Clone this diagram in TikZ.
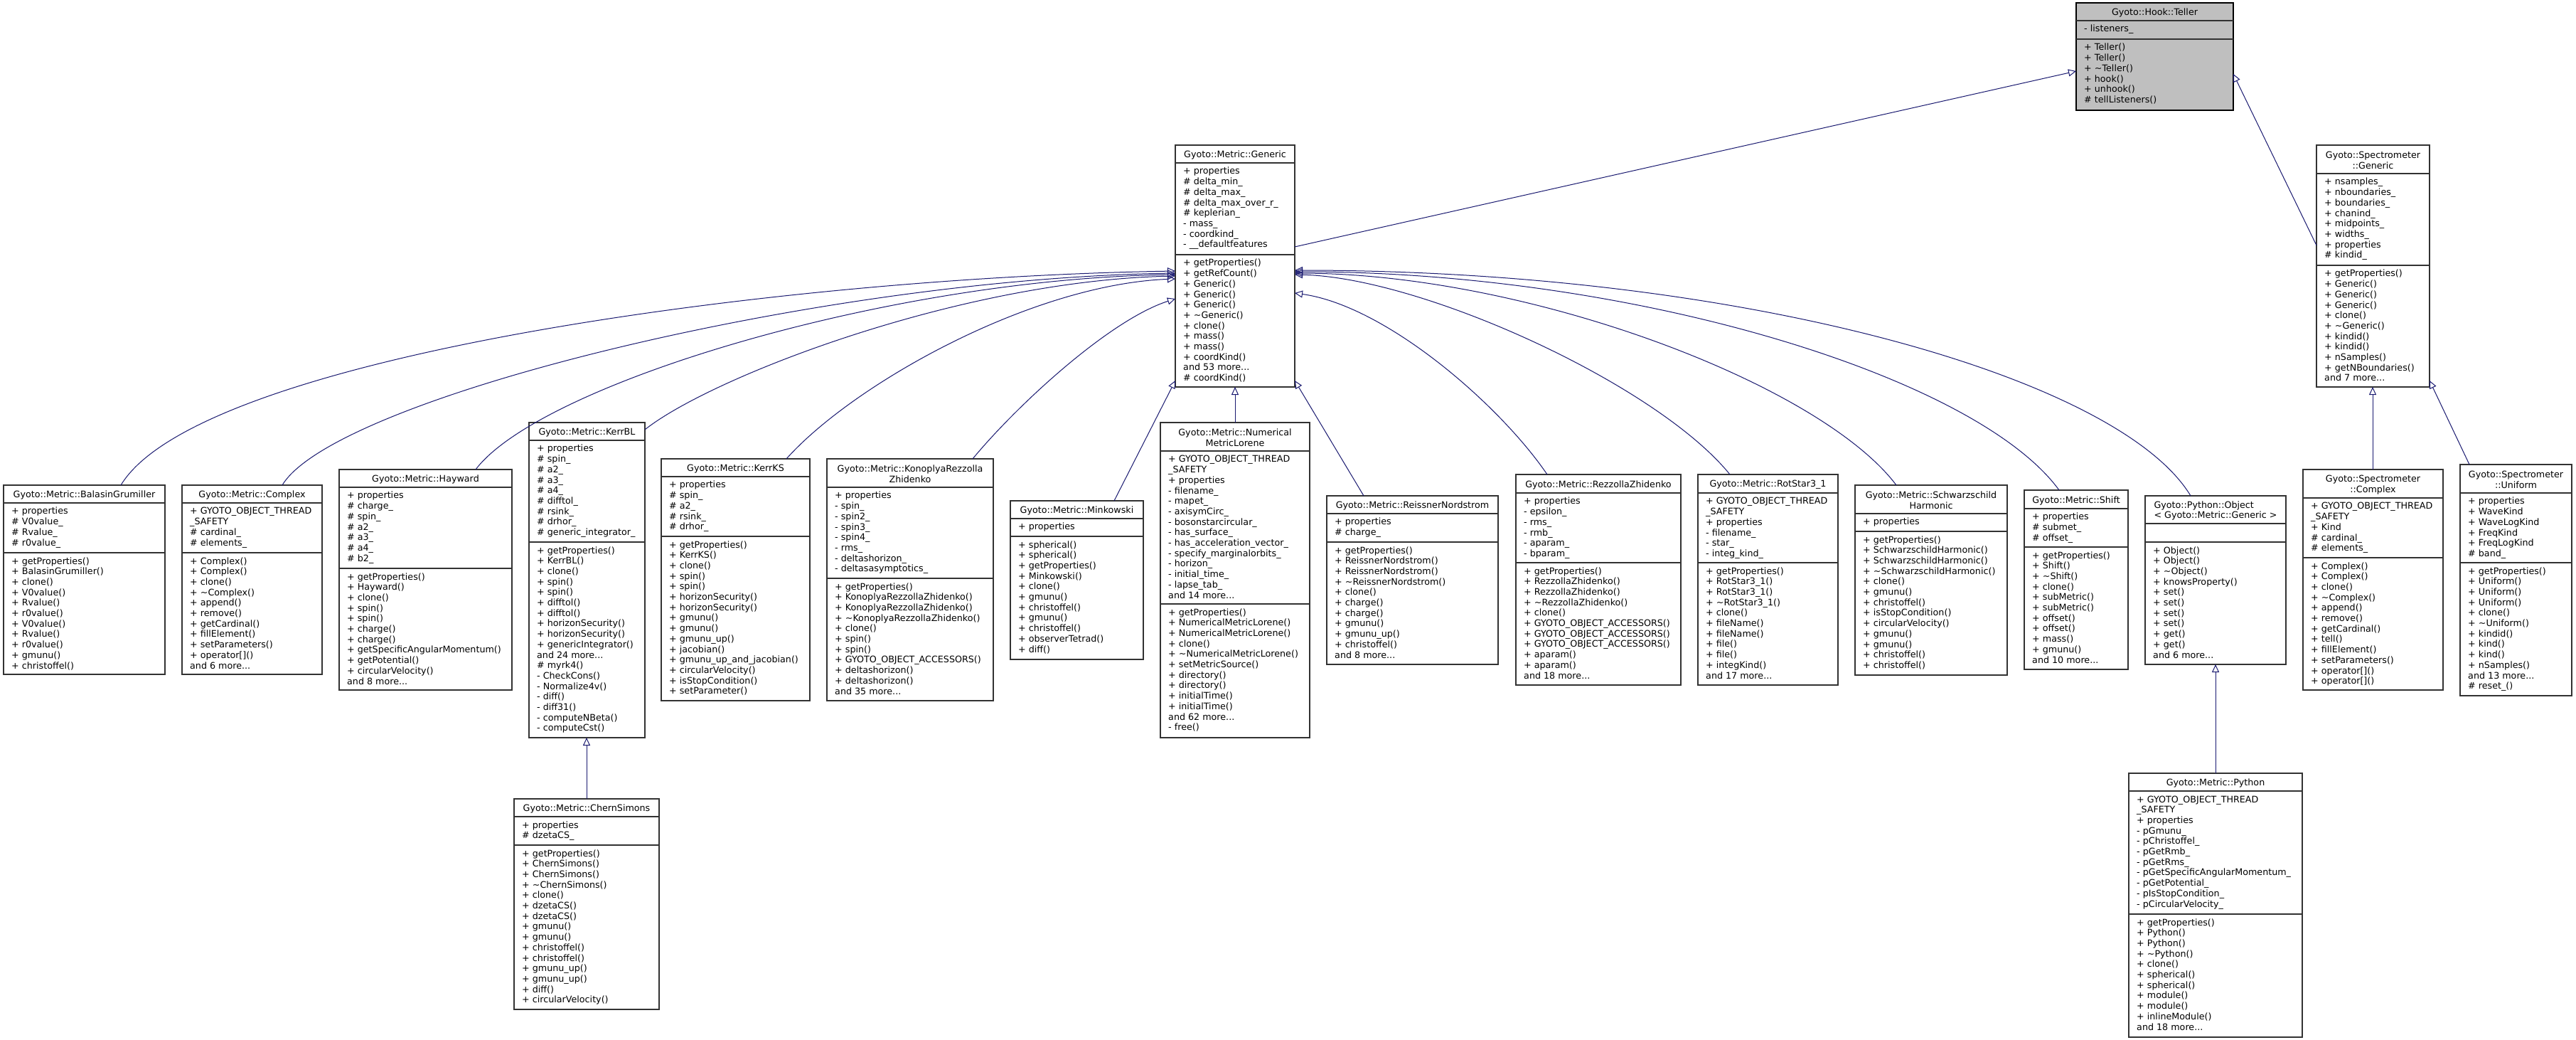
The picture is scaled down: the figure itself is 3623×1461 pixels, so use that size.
\documentclass[tikz,border=0pt]{standalone}
\usepackage{fontspec}
\setmainfont{DejaVu Sans}
\usetikzlibrary{arrows.meta}
\definecolor{edgecol}{RGB}{25,25,112}
\definecolor{boxcol}{RGB}{50,50,50}
\definecolor{focusfill}{RGB}{191,191,191}
\newcommand{\umlfont}{\fontsize{12.7}{14.7}\selectfont}
\newcommand{\tld}{\textasciitilde}
\tikzset{
 classbox/.style={draw=boxcol, line width=1.3pt, fill=white, rectangle, inner sep=0pt, outer sep=0pt, anchor=north west},
 sepline/.style={draw=boxcol, line width=1.3pt},
 titletext/.style={font=\umlfont, align=center, inner sep=0pt},
 thistitle/.style={},
 member/.style={font=\umlfont, align=left, inner sep=0pt, anchor=north west},
 inh/.style={draw=edgecol, line width=1pt, -{Triangle[open, length=11pt, width=10pt]}},
}
% #1 box style, #2 name, #3 L, #4 T, #5 R, #6 sep1, #7 sep2, #8 B, #9 title
\newcommand{\umlbox}[9][]{%
 \node[classbox, minimum width={(#5-#3)*1pt}, minimum height={(#8-#4)*1pt}, #1] (#2) at (#3,#4) {};
 \draw[sepline] (#3,#6) -- (#5,#6);
 \draw[sepline] (#3,#7) -- (#5,#7);
 \node[titletext, thistitle] (#2-title) at ({(#3+#5)/2},{(#4+#6)/2+1.5}) {#9};
 \coordinate (#2-a) at ({#3+11},{#6+5.5});
 \coordinate (#2-m) at ({#3+11},{#7+5.5});
}
\newcommand{\umlattr}[2]{\node[member] (#1-attrs) at (#1-a) {\strut #2};}
\newcommand{\umlmeth}[2]{\node[member] (#1-meths) at (#1-m) {\strut #2};}

\begin{document}
\begin{tikzpicture}[x=1pt,y=-1pt]
\useasboundingbox[fill=white] (0,0) rectangle (3623,1461);

% ---------- Teller ----------
\umlbox[fill=focusfill, draw=black]{tel}{2920}{4}{3141}{29}{55}{155}{Gyoto::Hook::Teller}
\umlattr{tel}{- listeners\_}
\umlmeth{tel}{+ Teller()\\+ Teller()\\+ \tld Teller()\\+ hook()\\+ unhook()\\\# tellListeners()}

% ---------- Metric::Generic ----------
\umlbox{gen}{1653}{204}{1821}{229}{358}{544}{Gyoto::Metric::Generic}
\umlattr{gen}{+ properties\\\# delta\_min\_\\\# delta\_max\_\\\# delta\_max\_over\_r\_\\\# keplerian\_\\- mass\_\\- coordkind\_\\- \_\_defaultfeatures}
\umlmeth{gen}{+ getProperties()\\+ getRefCount()\\+ Generic()\\+ Generic()\\+ Generic()\\+ \tld Generic()\\+ clone()\\+ mass()\\+ mass()\\+ coordKind()\\and 53 more...\\\# coordKind()}

% ---------- Spectrometer::Generic ----------
\umlbox{sg}{3258}{204}{3417}{244}{373}{544}{Gyoto::Spectrometer\\::Generic}
\umlattr{sg}{+ nsamples\_\\+ nboundaries\_\\+ boundaries\_\\+ chanind\_\\+ midpoints\_\\+ widths\_\\+ properties\\\# kindid\_}
\umlmeth{sg}{+ getProperties()\\+ Generic()\\+ Generic()\\+ Generic()\\+ clone()\\+ \tld Generic()\\+ kindid()\\+ kindid()\\+ nSamples()\\+ getNBoundaries()\\and 7 more...}

% ---------- BalasinGrumiller ----------
\umlbox{bg}{5}{682}{232}{707}{777}{948}{Gyoto::Metric::BalasinGrumiller}
\umlattr{bg}{+ properties\\\# V0value\_\\\# Rvalue\_\\\# r0value\_}
\umlmeth{bg}{+ getProperties()\\+ BalasinGrumiller()\\+ clone()\\+ V0value()\\+ Rvalue()\\+ r0value()\\+ V0value()\\+ Rvalue()\\+ r0value()\\+ gmunu()\\+ christoffel()}

% ---------- Metric::Complex ----------
\umlbox{cpx}{256}{682}{453}{707}{777}{948}{Gyoto::Metric::Complex}
\umlattr{cpx}{+ GYOTO\_OBJECT\_THREAD\\\_SAFETY\\\# cardinal\_\\\# elements\_}
\umlmeth{cpx}{+ Complex()\\+ Complex()\\+ clone()\\+ \tld Complex()\\+ append()\\+ remove()\\+ getCardinal()\\+ fillElement()\\+ setParameters()\\+ operator[]()\\and 6 more...}

% ---------- Hayward ----------
\umlbox{hay}{477}{660}{720}{685}{799}{970}{Gyoto::Metric::Hayward}
\umlattr{hay}{+ properties\\\# charge\_\\\# spin\_\\\# a2\_\\\# a3\_\\\# a4\_\\\# b2\_}
\umlmeth{hay}{+ getProperties()\\+ Hayward()\\+ clone()\\+ spin()\\+ spin()\\+ charge()\\+ charge()\\+ getSpecificAngularMomentum()\\+ getPotential()\\+ circularVelocity()\\and 8 more...}

% ---------- KerrBL ----------
\umlbox{kbl}{744}{594}{907}{619}{762}{1037}{Gyoto::Metric::KerrBL}
\umlattr{kbl}{+ properties\\\# spin\_\\\# a2\_\\\# a3\_\\\# a4\_\\\# difftol\_\\\# rsink\_\\\# drhor\_\\\# generic\_integrator\_}
\umlmeth{kbl}{+ getProperties()\\+ KerrBL()\\+ clone()\\+ spin()\\+ spin()\\+ difftol()\\+ difftol()\\+ horizonSecurity()\\+ horizonSecurity()\\+ genericIntegrator()\\and 24 more...\\\# myrk4()\\- CheckCons()\\- Normalize4v()\\- diff()\\- diff31()\\- computeNBeta()\\- computeCst()}

% ---------- KerrKS ----------
\umlbox{kks}{930}{645}{1139}{670}{754}{985}{Gyoto::Metric::KerrKS}
\umlattr{kks}{+ properties\\\# spin\_\\\# a2\_\\\# rsink\_\\\# drhor\_}
\umlmeth{kks}{+ getProperties()\\+ KerrKS()\\+ clone()\\+ spin()\\+ spin()\\+ horizonSecurity()\\+ horizonSecurity()\\+ gmunu()\\+ gmunu()\\+ gmunu\_up()\\+ jacobian()\\+ gmunu\_up\_and\_jacobian()\\+ circularVelocity()\\+ isStopCondition()\\+ setParameter()}

% ---------- KonoplyaRezzollaZhidenko ----------
\umlbox{krz}{1163}{645}{1397}{685}{813}{985}{Gyoto::Metric::KonoplyaRezzolla\\Zhidenko}
\umlattr{krz}{+ properties\\- spin\_\\- spin2\_\\- spin3\_\\- spin4\_\\- rms\_\\- deltashorizon\_\\- deltasasymptotics\_}
\umlmeth{krz}{+ getProperties()\\+ KonoplyaRezzollaZhidenko()\\+ KonoplyaRezzollaZhidenko()\\+ \tld KonoplyaRezzollaZhidenko()\\+ clone()\\+ spin()\\+ spin()\\+ GYOTO\_OBJECT\_ACCESSORS()\\+ deltashorizon()\\+ deltashorizon()\\and 35 more...}

% ---------- Minkowski ----------
\umlbox{mink}{1421}{704}{1608}{729}{754}{927}{Gyoto::Metric::Minkowski}
\umlattr{mink}{+ properties}
\umlmeth{mink}{+ spherical()\\+ spherical()\\+ getProperties()\\+ Minkowski()\\+ clone()\\+ gmunu()\\+ christoffel()\\+ gmunu()\\+ christoffel()\\+ observerTetrad()\\+ diff()}

% ---------- NumericalMetricLorene ----------
\umlbox{nml}{1632}{594}{1842}{634}{849}{1037}{Gyoto::Metric::Numerical\\MetricLorene}
\umlattr{nml}{+ GYOTO\_OBJECT\_THREAD\\\_SAFETY\\+ properties\\- filename\_\\- mapet\_\\- axisymCirc\_\\- bosonstarcircular\_\\- has\_surface\_\\- has\_acceleration\_vector\_\\- specify\_marginalorbits\_\\- horizon\_\\- initial\_time\_\\- lapse\_tab\_\\and 14 more...}
\umlmeth{nml}{+ getProperties()\\+ NumericalMetricLorene()\\+ NumericalMetricLorene()\\+ clone()\\+ \tld NumericalMetricLorene()\\+ setMetricSource()\\+ directory()\\+ directory()\\+ initialTime()\\+ initialTime()\\and 62 more...\\- free()}

% ---------- ReissnerNordstrom ----------
\umlbox{rn}{1866}{697}{2107}{722}{762}{934}{Gyoto::Metric::ReissnerNordstrom}
\umlattr{rn}{+ properties\\\# charge\_}
\umlmeth{rn}{+ getProperties()\\+ ReissnerNordstrom()\\+ ReissnerNordstrom()\\+ \tld ReissnerNordstrom()\\+ clone()\\+ charge()\\+ charge()\\+ gmunu()\\+ gmunu\_up()\\+ christoffel()\\and 8 more...}

% ---------- RezzollaZhidenko ----------
\umlbox{rz}{2132}{667}{2364}{693}{791}{963}{Gyoto::Metric::RezzollaZhidenko}
\umlattr{rz}{+ properties\\- epsilon\_\\- rms\_\\- rmb\_\\- aparam\_\\- bparam\_}
\umlmeth{rz}{+ getProperties()\\+ RezzollaZhidenko()\\+ RezzollaZhidenko()\\+ \tld RezzollaZhidenko()\\+ clone()\\+ GYOTO\_OBJECT\_ACCESSORS()\\+ GYOTO\_OBJECT\_ACCESSORS()\\+ GYOTO\_OBJECT\_ACCESSORS()\\+ aparam()\\+ aparam()\\and 18 more...}

% ---------- RotStar3_1 ----------
\umlbox{rs}{2388}{667}{2585}{693}{791}{963}{Gyoto::Metric::RotStar3\_1}
\umlattr{rs}{+ GYOTO\_OBJECT\_THREAD\\\_SAFETY\\+ properties\\- filename\_\\- star\_\\- integ\_kind\_}
\umlmeth{rs}{+ getProperties()\\+ RotStar3\_1()\\+ RotStar3\_1()\\+ \tld RotStar3\_1()\\+ clone()\\+ fileName()\\+ fileName()\\+ file()\\+ file()\\+ integKind()\\and 17 more...}

% ---------- SchwarzschildHarmonic ----------
\umlbox{sh}{2609}{682}{2823}{722}{747}{949}{Gyoto::Metric::Schwarzschild\\Harmonic}
\umlattr{sh}{+ properties}
\umlmeth{sh}{+ getProperties()\\+ SchwarzschildHarmonic()\\+ SchwarzschildHarmonic()\\+ \tld SchwarzschildHarmonic()\\+ clone()\\+ gmunu()\\+ christoffel()\\+ isStopCondition()\\+ circularVelocity()\\+ gmunu()\\+ gmunu()\\+ christoffel()\\+ christoffel()}

% ---------- Shift ----------
\umlbox{shift}{2847}{689}{2993}{715}{769}{941}{Gyoto::Metric::Shift}
\umlattr{shift}{+ properties\\\# submet\_\\\# offset\_}
\umlmeth{shift}{+ getProperties()\\+ Shift()\\+ \tld Shift()\\+ clone()\\+ subMetric()\\+ subMetric()\\+ offset()\\+ offset()\\+ mass()\\+ gmunu()\\and 10 more...}

% ---------- Python::Object ----------
\tikzset{thistitle/.style={align=left}}
\umlbox{pyo}{3017}{697}{3215}{736}{762}{934}{Gyoto::Python::Object\\< Gyoto::Metric::Generic >}
\tikzset{thistitle/.style={}}
\umlmeth{pyo}{+ Object()\\+ Object()\\+ \tld Object()\\+ knowsProperty()\\+ set()\\+ set()\\+ set()\\+ set()\\+ get()\\+ get()\\and 6 more...}

% ---------- Spectrometer::Complex ----------
\umlbox{sc}{3239}{660}{3436}{700}{784}{970}{Gyoto::Spectrometer\\::Complex}
\umlattr{sc}{+ GYOTO\_OBJECT\_THREAD\\\_SAFETY\\+ Kind\\\# cardinal\_\\\# elements\_}
\umlmeth{sc}{+ Complex()\\+ Complex()\\+ clone()\\+ \tld Complex()\\+ append()\\+ remove()\\+ getCardinal()\\+ tell()\\+ fillElement()\\+ setParameters()\\+ operator[]()\\+ operator[]()}

% ---------- Spectrometer::Uniform ----------
\umlbox{su}{3460}{653}{3617}{693}{791}{978}{Gyoto::Spectrometer\\::Uniform}
\umlattr{su}{+ properties\\+ WaveKind\\+ WaveLogKind\\+ FreqKind\\+ FreqLogKind\\\# band\_}
\umlmeth{su}{+ getProperties()\\+ Uniform()\\+ Uniform()\\+ Uniform()\\+ clone()\\+ \tld Uniform()\\+ kindid()\\+ kind()\\+ kind()\\+ nSamples()\\and 13 more...\\\# reset\_()}

% ---------- ChernSimons ----------
\umlbox{cs}{723}{1123}{927}{1148}{1188}{1419}{Gyoto::Metric::ChernSimons}
\umlattr{cs}{+ properties\\\# dzetaCS\_}
\umlmeth{cs}{+ getProperties()\\+ ChernSimons()\\+ ChernSimons()\\+ \tld ChernSimons()\\+ clone()\\+ dzetaCS()\\+ dzetaCS()\\+ gmunu()\\+ gmunu()\\+ christoffel()\\+ christoffel()\\+ gmunu\_up()\\+ gmunu\_up()\\+ diff()\\+ circularVelocity()}

% ---------- Metric::Python ----------
\umlbox{py}{2994}{1087}{3238}{1112}{1285}{1458}{Gyoto::Metric::Python}
\umlattr{py}{+ GYOTO\_OBJECT\_THREAD\\\_SAFETY\\+ properties\\- pGmunu\_\\- pChristoffel\_\\- pGetRmb\_\\- pGetRms\_\\- pGetSpecificAngularMomentum\_\\- pGetPotential\_\\- pIsStopCondition\_\\- pCircularVelocity\_}
\umlmeth{py}{+ getProperties()\\+ Python()\\+ Python()\\+ \tld Python()\\+ clone()\\+ spherical()\\+ spherical()\\+ module()\\+ module()\\+ inlineModule()\\and 18 more...}

% ================= inheritance edges =================
\draw[inh] ([xshift=165pt]bg.north west) .. controls (280,500) and (1100,390) .. ([yshift=-177pt]gen.north west);
\draw[inh] ([xshift=141pt]cpx.north west) .. controls (470,560) and (1150,392) .. ([yshift=-180pt]gen.north west);
\draw[inh] ([xshift=192pt]hay.north west) .. controls (760,540) and (1250,392) .. ([yshift=-182pt]gen.north west);
\draw[inh] ([yshift=-10pt]kbl.north east) .. controls (1000,530) and (1350,395) .. ([yshift=-184pt]gen.north west);
\draw[inh] ([xshift=176pt]kks.north west) .. controls (1200,540) and (1450,400) .. ([yshift=-188pt]gen.north west);
\draw[inh] ([xshift=205pt]krz.north west) .. controls (1430,570) and (1560,450) .. ([yshift=-216pt]gen.north west);
\draw[inh] ([xshift=146pt]mink.north west) -- ([yshift=-331pt]gen.north west);
\draw[inh] ([xshift=105pt]nml.north west) -- ([xshift=84pt]gen.south west);
\draw[inh] ([xshift=52pt]rn.north west) -- ([yshift=-331pt]gen.north east);
\draw[inh] ([xshift=44pt]rz.north west) .. controls (2110,570) and (1950,430) .. ([yshift=-208pt]gen.north east);
\draw[inh] ([xshift=45pt]rs.north west) .. controls (2330,540) and (2000,390) .. ([yshift=-182pt]gen.north east);
\draw[inh] ([xshift=58pt]sh.north west) .. controls (2560,540) and (2150,385) .. ([yshift=-180pt]gen.north east);
\draw[inh] ([xshift=49pt]shift.north west) .. controls (2780,530) and (2300,382) .. ([yshift=-178pt]gen.north east);
\draw[inh] ([xshift=64pt]pyo.north west) .. controls (2980,530) and (2450,380) .. ([yshift=-176pt]gen.north east);
\draw[inh] ([yshift=-143pt]gen.north east) -- ([yshift=-96pt]tel.north west);
\draw[inh] ([yshift=-141pt]sg.north west) -- ([yshift=-100pt]tel.north east);
\draw[inh] ([xshift=98pt]sc.north west) -- ([xshift=79pt]sg.south west);
\draw[inh] ([xshift=13pt]su.north west) -- ([yshift=9pt]sg.south east);
\draw[inh] ([xshift=102pt]cs.north west) -- ([xshift=81pt]kbl.south west);
\draw[inh] ([xshift=122pt]py.north west) -- ([xshift=99pt]pyo.south west);
\end{tikzpicture}
\end{document}
